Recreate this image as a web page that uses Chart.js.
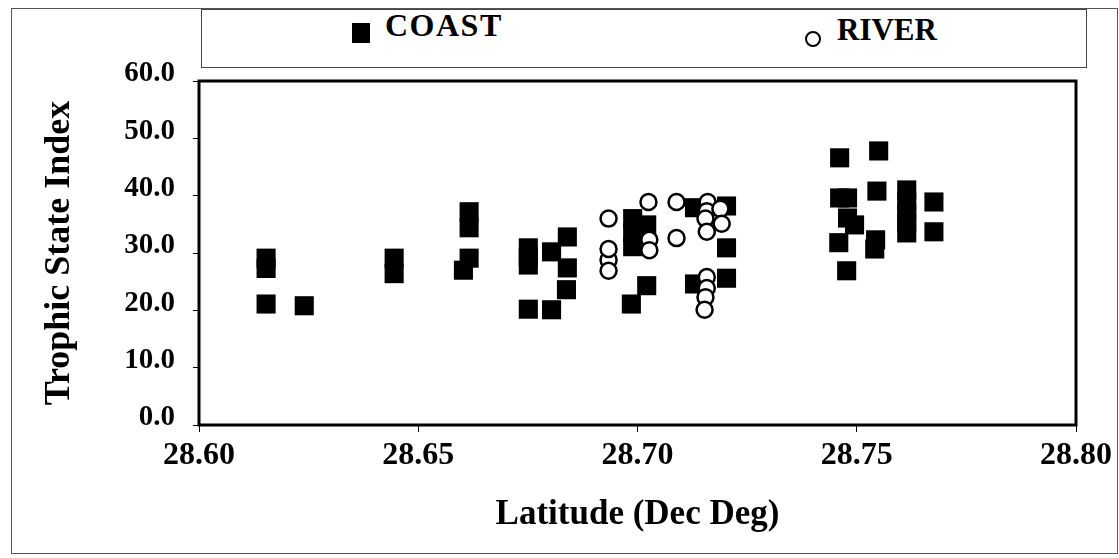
<!DOCTYPE html>
<html>
<head>
<meta charset="utf-8">
<script src="https://cdn.jsdelivr.net/npm/chart.js@4.4.1/dist/chart.umd.min.js"></script>
<style>
    body { margin: 0; background: #fff; }
    #wrap { position: relative; width: 1119px; height: 558px; font-family: 'Liberation Serif', 'Times New Roman', serif; }
    #frame { position: absolute; left: 11px; top: 8px; width: 1105px; height: 544px; border: 1px solid #555; }
    #legend { position: absolute; left: 201px; top: 9px; width: 884px; height: 57px; border: 1px solid #444; background: #fff; }
    .leg-text { position: absolute; font-weight: bold; color: #000; }
    #coast-mark { position: absolute; left: 352px; top: 23px; width: 18px; height: 20px; background: #000; }
    #river-mark { position: absolute; left: 805px; top: 31px; width: 16px; height: 16px; border: 2.5px solid #000; border-radius: 50%; box-sizing: border-box; }
    canvas { position: absolute; left: 0; top: 0; }
</style>
</head>
<body>
<div id="wrap">
    <div id="frame"></div>
    <div id="legend"></div>
    <div id="coast-mark"></div>
    <div class="leg-text" style="left:385px;top:9px;font-size:32px;line-height:32px;letter-spacing:1.5px;">COAST</div>
    <div id="river-mark"></div>
    <div class="leg-text" style="left:837px;top:14px;font-size:31px;line-height:31px;">RIVER</div>
    <canvas id="myChart" width="1119" height="558"></canvas>
</div>
<script>
    'use strict';

    // COAST stations: latitude (dec deg) and trophic state index
    var coastLat = [28.6153, 28.6153, 28.6153, 28.6240, 28.6445, 28.6445, 28.6616, 28.6616, 28.6616, 28.6603,
        28.6751, 28.6751, 28.6751, 28.6751, 28.6804, 28.6804, 28.6840, 28.6840, 28.6838,
        28.6989, 28.6989, 28.6989, 28.7021, 28.7021, 28.6986, 28.7130, 28.7130, 28.7203, 28.7203, 28.7203,
        28.7461, 28.7550, 28.7461, 28.7479, 28.7479, 28.7495, 28.7459, 28.7477, 28.7546, 28.7543, 28.7541,
        28.7614, 28.7614, 28.7614, 28.7614, 28.7614, 28.7676, 28.7676];
    var coastTsi = [29.1, 27.3, 21.1, 20.8, 29.1, 26.4, 37.2, 34.4, 29.1, 27.0,
        30.9, 29.3, 27.9, 20.2, 20.1, 30.2, 32.8, 27.4, 23.6,
        36.0, 33.5, 31.1, 34.9, 24.3, 21.1, 37.9, 24.6, 38.2, 30.9, 25.6,
        46.6, 47.8, 39.6, 39.6, 36.1, 34.9, 31.8, 26.9, 40.8, 32.3, 30.7,
        41.0, 38.9, 37.0, 35.3, 33.5, 38.9, 33.7];

    // RIVER stations
    var riverLat = [28.6934, 28.6934, 28.6934, 28.6934, 28.7025, 28.7027, 28.7027, 28.7089, 28.7089,
        28.7160, 28.7158, 28.7155, 28.7189, 28.7192, 28.7158, 28.7158, 28.7158, 28.7155, 28.7153];
    var riverTsi = [28.8, 36.0, 30.7, 26.9, 38.9, 32.3, 30.5, 38.9, 32.6,
        38.9, 37.3, 36.0, 37.7, 35.1, 33.7, 25.8, 23.9, 22.3, 20.1];

    var xTicks = [28.60, 28.65, 28.70, 28.75, 28.80];
    var yTicks = [0, 10, 20, 30, 40, 50, 60];

    function toPoints(xs, ys) {
        return xs.map(function (x, i) {
            return {x: x, y: ys[i]};
        });
    }

    // thick box round the plot area
    var framePlugin = {
        id: 'plotFrame',
        afterDraw: function (chart) {
            var a = chart.chartArea;
            var ctx = chart.ctx;
            ctx.save();
            ctx.strokeStyle = '#000';
            ctx.lineWidth = 3;
            ctx.strokeRect(a.left, a.top, a.right - a.left, a.bottom - a.top);
            ctx.restore();
        }
    };

    var serif = "'Liberation Serif', serif";

    new Chart(document.getElementById('myChart').getContext('2d'), {
        type: 'scatter',
        data: {
            datasets: [{
                label: 'RIVER',
                data: toPoints(riverLat, riverTsi),
                pointStyle: 'circle',
                pointRadius: 8,
                pointBorderWidth: 2.5,
                backgroundColor: '#fff',
                borderColor: '#000',
                order: 0
            }, {
                label: 'COAST',
                data: toPoints(coastLat, coastTsi),
                pointStyle: 'rect',
                pointRadius: 13.5,
                pointBorderWidth: 0,
                backgroundColor: '#000',
                borderColor: '#000',
                order: 1
            }]
        },
        options: {
            responsive: false,
            animation: false,
            layout: {padding: {top: 81, right: 43, left: 0, bottom: 0}},
            plugins: {
                legend: {display: false},
                tooltip: {enabled: false}
            },
            scales: {
                x: {
                    type: 'linear',
                    min: xTicks[0],
                    max: xTicks[xTicks.length - 1],
                    afterFit: function (scale) { scale.height = 133; },
                    afterBuildTicks: function (scale) {
                        scale.ticks = xTicks.map(function (v) { return {value: v}; });
                    },
                    border: {display: false},
                    grid: {drawOnChartArea: false, drawTicks: true, tickLength: 7, color: '#000', lineWidth: 1},
                    ticks: {
                        color: '#000',
                        font: {family: serif, size: 32, weight: 'bold'},
                        padding: 5,
                        maxRotation: 0,
                        callback: function (v) { return Number(v).toFixed(2); }
                    },
                    title: {
                        display: true,
                        text: 'Latitude (Dec Deg)',
                        color: '#000',
                        font: {family: serif, size: 35, weight: 'bold'},
                        padding: {top: 0, bottom: 22}
                    }
                },
                y: {
                    min: yTicks[0],
                    max: yTicks[yTicks.length - 1],
                    afterFit: function (scale) { scale.width = 199; },
                    afterBuildTicks: function (scale) {
                        scale.ticks = yTicks.map(function (v) { return {value: v}; });
                    },
                    border: {display: false},
                    grid: {drawOnChartArea: false, drawTicks: true, tickLength: 6, color: '#000', lineWidth: 1},
                    ticks: {
                        color: '#000',
                        font: {family: serif, size: 29, weight: 'bold'},
                        padding: 18,
                        labelOffset: -7,
                        callback: function (v) { return Number(v).toFixed(1); }
                    },
                    title: {
                        display: true,
                        text: 'Trophic State Index',
                        color: '#000',
                        font: {family: serif, size: 36, weight: 'bold'},
                        padding: {top: 38, bottom: 0}
                    }
                }
            }
        },
        plugins: [framePlugin]
    });
</script>
</body>
</html>
